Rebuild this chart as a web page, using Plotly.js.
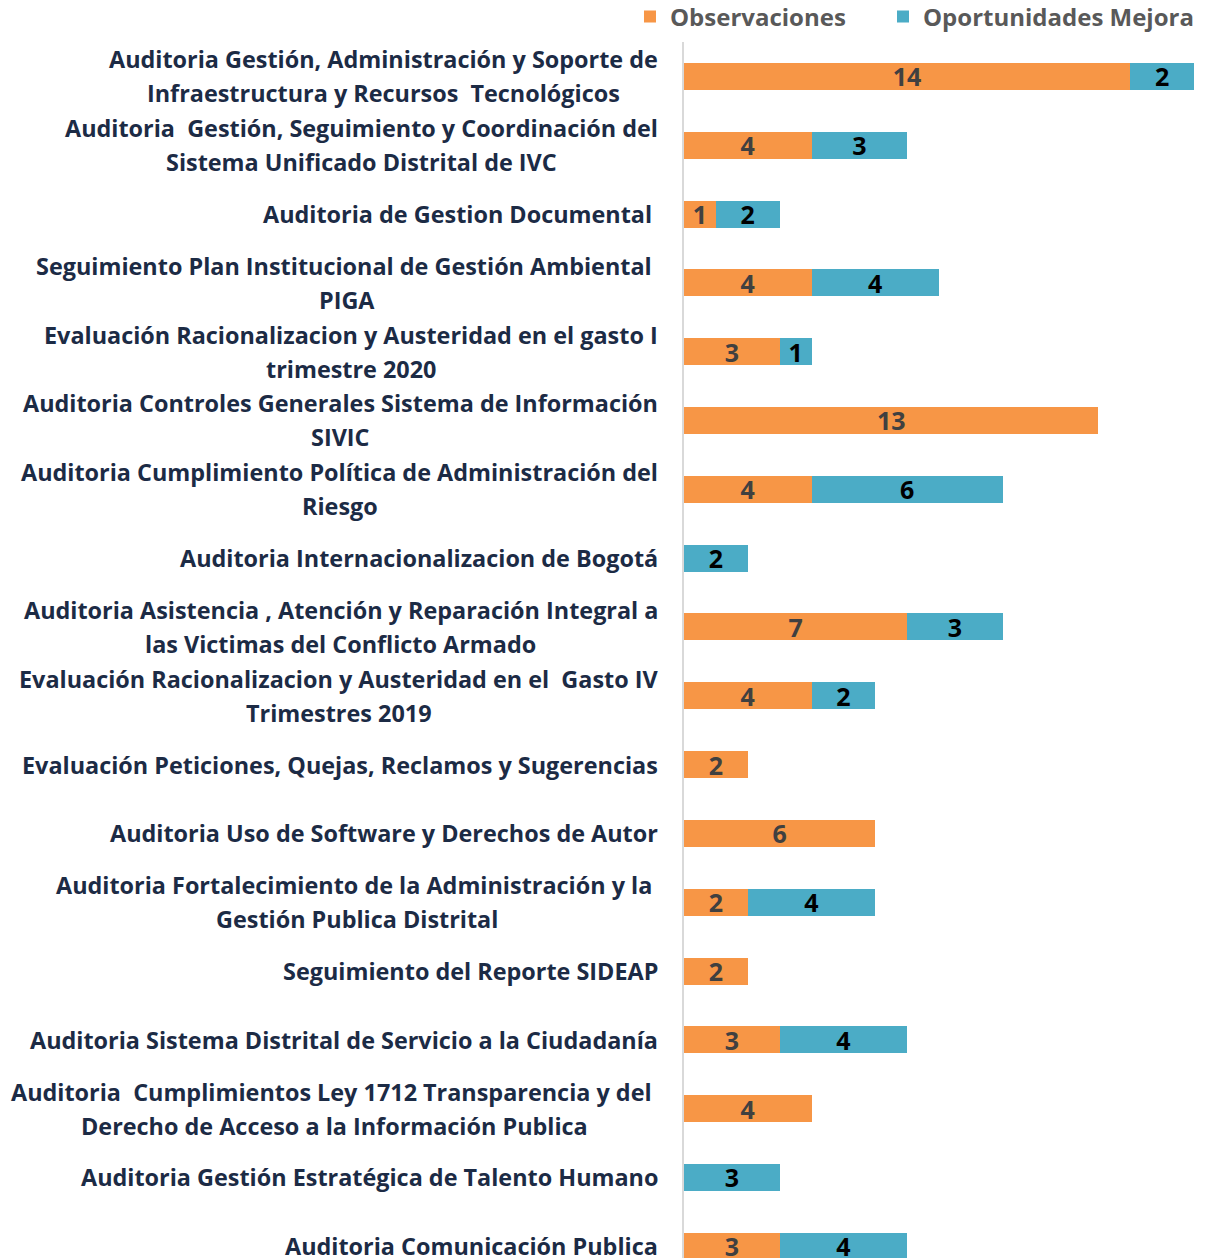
<!DOCTYPE html>
<html>
<head>
<meta charset="utf-8">
<script src="https://cdn.plot.ly/plotly-3.0.1.min.js"></script>
<style>html,body{margin:0;padding:0;background:#fff;}#chart{width:1209px;height:1258px;}</style>
</head>
<body>
<div id="chart"></div>
<script>
// ---- data ----
const categories = [
  ["Auditoria Gestión, Administración y Soporte de", "Infraestructura y Recursos  Tecnológicos"],
  ["Auditoria  Gestión, Seguimiento y Coordinación del", "Sistema Unificado Distrital de IVC"],
  ["Auditoria de Gestion Documental\u00A0"],
  ["Seguimiento Plan Institucional de Gestión Ambiental\u00A0", "PIGA"],
  ["Evaluación Racionalizacion y Austeridad en el gasto I", "trimestre 2020"],
  ["Auditoria Controles Generales Sistema de Información", "SIVIC"],
  ["Auditoria Cumplimiento Política de Administración del", "Riesgo"],
  ["Auditoria Internacionalizacion de Bogotá"],
  ["Auditoria Asistencia , Atención y Reparación Integral a", "las Victimas del Conflicto Armado"],
  ["Evaluación Racionalizacion y Austeridad en el  Gasto IV", "Trimestres 2019"],
  ["Evaluación Peticiones, Quejas, Reclamos y Sugerencias"],
  ["Auditoria Uso de Software y Derechos de Autor"],
  ["Auditoria Fortalecimiento de la Administración y la\u00A0", "Gestión Publica Distrital"],
  ["Seguimiento del Reporte SIDEAP"],
  ["Auditoria Sistema Distrital de Servicio a la Ciudadanía"],
  ["Auditoria  Cumplimientos Ley 1712 Transparencia y del\u00A0", "Derecho de Acceso a la Información Publica"],
  ["Auditoria Gestión Estratégica de Talento Humano"],
  ["Auditoria Comunicación Publica"]
];
const observaciones = [14, 4, 1, 4, 3, 13, 4, null, 7, 4, 2, 6, 2, 2, 3, 4, null, 3];
const oportunidades = [2, 3, 2, 4, 1, null, 6, 2, 3, 2, null, null, 4, null, 4, null, 3, 4];
const seriesNames = ["Observaciones", "Oportunidades Mejora"];

// ---- styling ----
const ORANGE = "#F79646", TEAL = "#4BACC6";
const LABEL_FONT = "Open Sans";
const LABEL_SIZE = 23.4, LABEL_WEIGHT = 700, LINE_H = 34, LABEL_GAP = 26;
const yKeys = categories.map(c => c.join(" "));

const traces = [
  {
    type: "bar", orientation: "h", name: seriesNames[0], legend: "legend",
    y: yKeys, x: observaciones,
    marker: {color: ORANGE},
    text: observaciones.map(v => v == null ? "" : String(v)),
    textposition: "inside", insidetextanchor: "middle", textangle: 0,
    constraintext: "none",
    textfont: {family: LABEL_FONT, size: 25, weight: 700, color: "#404040"},
    hoverinfo: "skip"
  },
  {
    type: "bar", orientation: "h", name: seriesNames[1], legend: "legend2",
    y: yKeys, x: oportunidades,
    marker: {color: TEAL},
    text: oportunidades.map(v => v == null ? "" : String(v)),
    textposition: "inside", insidetextanchor: "middle", textangle: 0,
    constraintext: "none",
    textfont: {family: LABEL_FONT, size: 25, weight: 700, color: "#000000"},
    hoverinfo: "skip"
  }
];

// measure label widths to center each line within its right-aligned block
const ctx = document.createElement("canvas").getContext("2d");
ctx.font = LABEL_WEIGHT + " " + LABEL_SIZE + "px '" + LABEL_FONT + "'";
const annotations = [];
categories.forEach((lines, i) => {
  const w = Math.max(...lines.map(l => ctx.measureText(l).width));
  const n = lines.length;
  lines.forEach((line, j) => {
    annotations.push({
      xref: "paper", yref: "y", x: 0, y: yKeys[i],
      xanchor: "center", yanchor: "middle",
      xshift: -(LABEL_GAP + w / 2),
      yshift: ((n - 1) / 2 - j) * LINE_H,
      text: line.replace(/ /g, "\u00A0"), showarrow: false,
      font: {family: LABEL_FONT, size: LABEL_SIZE, weight: LABEL_WEIGHT, color: "#1C2B45"}
    });
  });
});

const legendFont = {family: LABEL_FONT, size: 24, weight: 700, color: "#595959"};
const layout = {
  width: 1209, height: 1258,
  margin: {l: 684, r: 15, t: 42, b: 0, pad: 0, autoexpand: false},
  barmode: "stack", bargap: 0.608,
  paper_bgcolor: "#fff", plot_bgcolor: "#fff",
  showlegend: true,
  legend: {
    orientation: "h", x: -0.1059, xanchor: "left", y: 1.0206, yanchor: "middle",
    font: legendFont, itemwidth: 30, bgcolor: "rgba(0,0,0,0)"
  },
  legend2: {
    orientation: "h", x: 0.3902, xanchor: "left", y: 1.0206, yanchor: "middle",
    font: legendFont, itemwidth: 30, bgcolor: "rgba(0,0,0,0)"
  },
  xaxis: {range: [0, 16], visible: false, fixedrange: true},
  yaxis: {
    type: "category", categoryorder: "array", categoryarray: yKeys,
    range: [17.17, -0.5], showticklabels: false, ticks: "",
    showgrid: false, zeroline: false,
    showline: true, linecolor: "#D9D9D9", linewidth: 2
  },
  annotations: annotations,
  hovermode: false
};

Plotly.newPlot("chart", traces, layout, {displayModeBar: false, staticPlot: true});
</script>
</body>
</html>
